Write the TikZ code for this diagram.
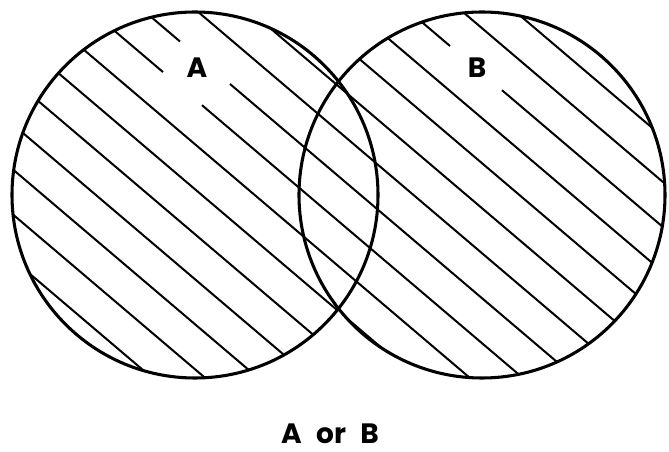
\documentclass[tikz,border=0pt]{standalone}
\usepackage{fontspec}
\setmainfont{Poppins}
\begin{document}
\begin{tikzpicture}[x=0.75pt,y=-0.75pt,
  hatch/.style={line width=1.5pt},
  rim/.style={line width=2.3pt},
  lbl/.style={font=\fontsize{21}{24}\selectfont\bfseries, inner sep=0pt}]
\useasboundingbox (0,0) rectangle (669,452);
\fill[white] (0,0) rectangle (669,452);
\coordinate (cA) at (195,195);
\coordinate (cB) at (482,195);
\begin{scope}
  \clip (cA) circle[radius=183] (cB) circle[radius=183];
  \foreach \k in {-426.5,-381.5,-291.5,-246.5,-201.5,-156.5,-21.5,23.5,68.5,113.5,158.5,203.5,248.5}
    \draw[hatch] (0,\k) -- (669,568.65+\k);
  % lines broken around the labels
  \draw[hatch] (0,-66.5) -- (163,72.05);
  \draw[hatch] (202,105.2) -- (669,502.15);
  \draw[hatch] (0,-111.5) -- (180,41.5);
  \draw[hatch] (230,84) -- (669,457.15);
  \draw[hatch] (0,-336.5) -- (450,46);
  \draw[hatch] (502,90.2) -- (669,232.15);
\end{scope}
\draw[rim] (cA) circle[radius=183];
\draw[rim] (cB) circle[radius=183];
\node[lbl] (la) at (197,68) {A};
\node[lbl] (lb) at (477,68) {B};
\node[lbl] (cap) at (330,434) {A\hspace{0.3em} or\hspace{0.3em} B};
\end{tikzpicture}
\end{document}
